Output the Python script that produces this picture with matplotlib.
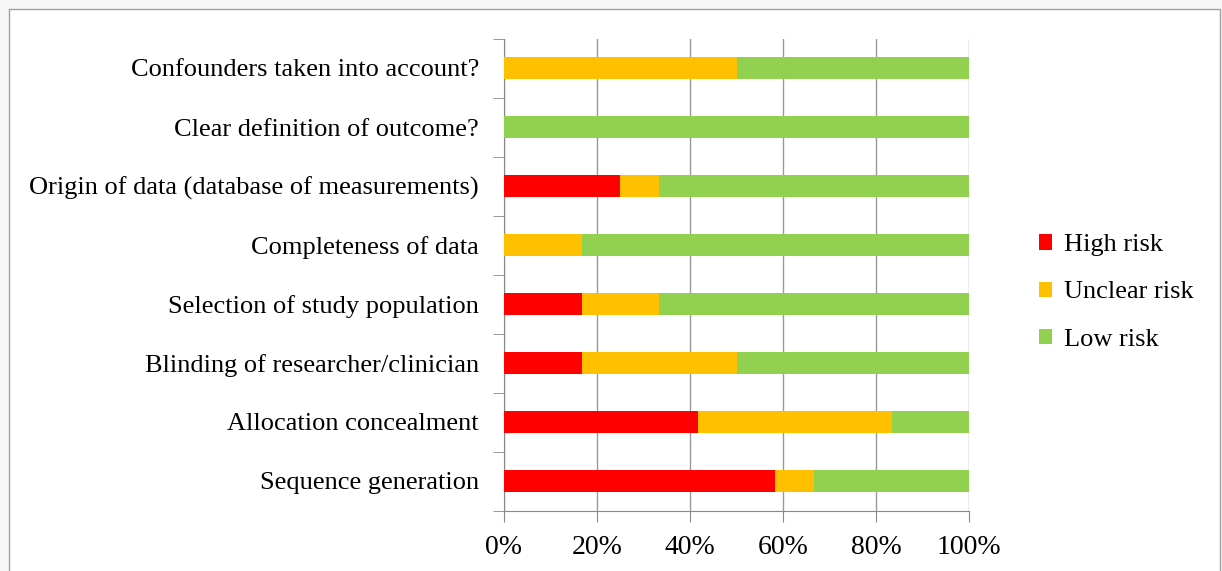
import matplotlib.pyplot as plt
from matplotlib.patches import Rectangle
import numpy as np

# risk of bias domains, bottom to top
domains = [
    'Sequence generation',
    'Allocation concealment',
    'Blinding of researcher/clinician',
    'Selection of study population',
    'Completeness of data',
    'Origin of data (database of measurements)',
    'Clear definition of outcome?',
    'Confounders taken into account?',
]
high_risk = [58.3, 41.7, 16.7, 16.7, 0.0, 25.0, 0.0, 0.0]
unclear_risk = [8.3, 41.7, 33.3, 16.7, 16.7, 8.3, 0.0, 50.0]
low_risk = [33.4, 16.6, 50.0, 66.6, 83.3, 66.7, 100.0, 50.0]
series_names = ['High risk', 'Unclear risk', 'Low risk']
colors = ['#FF0000', '#FFC000', '#92D050']
xticks = [0, 20, 40, 60, 80, 100]

plt.rcParams['font.family'] = ['Liberation Serif', 'DejaVu Serif']

fig = plt.figure(figsize=(12.22, 5.71), dpi=100)
fig.patch.set_facecolor('#f7f7f7')
fig.patches.append(Rectangle((9/1222, -0.1), (1220-9)/1222, 1.1 - 9/571,
                             transform=fig.transFigure, facecolor='white',
                             edgecolor='#a0a0a0', linewidth=1, zorder=-10))

ax = fig.add_axes([504/1222, 60.5/571, 465/1222, 472/571])
ax.set_facecolor('none')

y = np.arange(len(domains))
left = np.zeros(len(domains))
for vals, name, c in zip([high_risk, unclear_risk, low_risk], series_names, colors):
    ax.barh(y, vals, left=left, height=0.38, color=c, label=name, zorder=3)
    left = left + np.array(vals)

ax.set_xlim(0, 100)
ax.set_ylim(-0.5, len(domains) - 0.5)
ax.set_xticks(xticks)
ax.set_xticklabels([f'{t}%' for t in xticks], fontsize=20)
ax.set_yticks(y)
ax.set_yticklabels(domains, fontsize=19)
ax.tick_params(axis='y', which='major', length=0, pad=18)
ax.set_yticks(np.arange(-0.5, len(domains)), minor=True)
ax.tick_params(axis='y', which='minor', length=8, color='#888888', direction='out')
ax.tick_params(axis='x', length=8, color='#888888', pad=10)
ax.grid(axis='x', color='#999999', linewidth=1, zorder=0)

for s in ['top', 'right']:
    ax.spines[s].set_visible(False)
for s in ['left', 'bottom']:
    ax.spines[s].set_color('#888888')

leg = ax.legend(loc='center left', bbox_to_anchor=(1.1, 0.462), frameon=False,
                fontsize=19, handlelength=0.5, handleheight=0.5,
                handletextpad=0.45, labelspacing=0.95)

fig.savefig('out.png', dpi=100, facecolor=fig.get_facecolor())
